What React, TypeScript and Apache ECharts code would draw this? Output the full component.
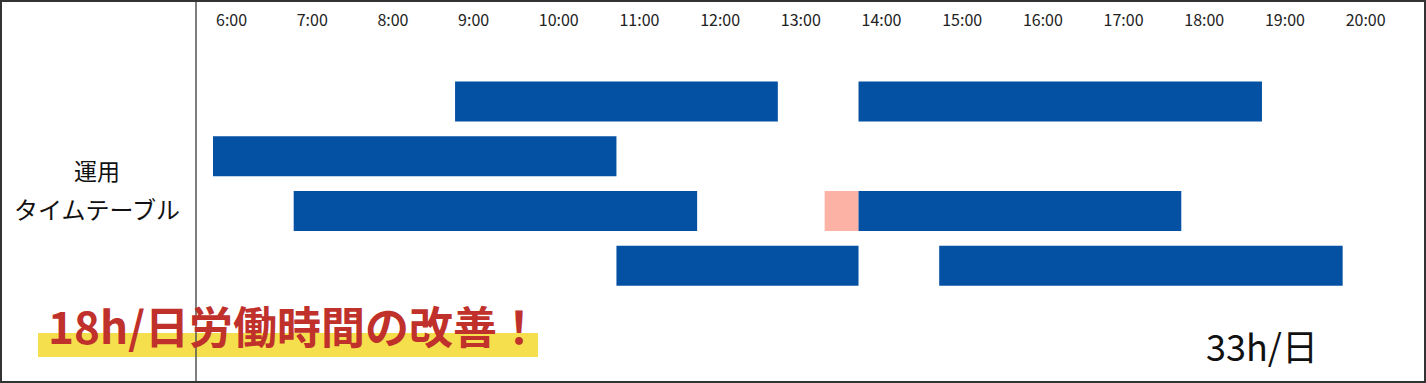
import React, { useEffect, useRef } from 'react';
import * as echarts from 'echarts';

const rowNames = ['row1', 'row2', 'row3', 'row4'];
const shiftRow = [0, 0, 1, 2, 2, 2, 3, 3];
const shiftStart = [9, 14, 6, 7, 13.58, 14, 11, 15];
const shiftEnd = [13, 19, 11, 12, 14, 18, 14, 20];
const shiftKind = ['work', 'work', 'work', 'work', 'extra', 'work', 'work', 'work'];
const axisMin = 6;
const axisMax = 20.5;
const sideLabel = ['運用', 'タイムテーブル'];
const improveText = '18h/日労働時間の改善！';
const totalText = '33h/日';

const kindColor: Record<string, string> = { work: '#0451a3', extra: '#fcb3a5' };
const FONT = '"Noto Sans CJK JP", "Noto Sans", sans-serif';

export default function App() {
  const ref = useRef<HTMLDivElement>(null);
  useEffect(() => {
    const chart = echarts.init(ref.current!, null, { renderer: 'svg' });
    chart.setOption({
      animation: false,
      grid: { left: 213, right: 43, top: 74, bottom: 90 },
      xAxis: {
        type: 'value',
        position: 'top',
        min: axisMin,
        max: axisMax,
        interval: 1,
        axisLine: { show: false },
        axisTick: { show: false },
        splitLine: { show: false },
        axisLabel: {
          formatter: (v: number) => (Number.isInteger(v) ? `${v}:00` : ''),
          align: 'left',
          padding: [0, 0, 0, 3],
          margin: 47,
          fontSize: 16,
          color: '#222',
          fontFamily: FONT,
        },
      },
      yAxis: {
        type: 'category',
        data: rowNames,
        inverse: true,
        axisLine: { show: false },
        axisTick: { show: false },
        axisLabel: { show: false },
        splitLine: { show: false },
      },
      series: [
        {
          type: 'custom',
          renderItem: (params: any, api: any) => {
            const row = api.value(0);
            const s = api.coord([api.value(1), row]);
            const e = api.coord([api.value(2), row]);
            const h = 40;
            return {
              type: 'rect',
              shape: { x: s[0], y: s[1] - h / 2, width: e[0] - s[0], height: h },
              style: { fill: kindColor[shiftKind[params.dataIndex]] },
            };
          },
          encode: { x: [1, 2], y: 0 },
          data: shiftRow.map((r, i) => [r, shiftStart[i], shiftEnd[i]]),
        },
      ],
      graphic: [
        {
          type: 'rect',
          z: 1,
          shape: { x: 38, y: 333, width: 500, height: 24 },
          style: { fill: '#f5df4d' },
        },
        {
          type: 'line',
          z: 2,
          shape: { x1: 196, y1: 0, x2: 196, y2: 383 },
          style: { stroke: '#555', lineWidth: 1.5 },
        },
        {
          type: 'rect',
          z: 2,
          shape: { x: 1, y: 1, width: 1424, height: 381 },
          style: { fill: 'none', stroke: '#333', lineWidth: 2 },
        },
        {
          type: 'text',
          z: 3,
          x: 97,
          y: 170,
          style: { text: sideLabel[0], fontSize: 23, fontFamily: FONT, fill: '#111', textAlign: 'center', textVerticalAlign: 'middle' },
        },
        {
          type: 'text',
          z: 3,
          x: 97,
          y: 208,
          style: { text: sideLabel[1], fontSize: 24, fontFamily: FONT, fill: '#111', textAlign: 'center', textVerticalAlign: 'middle' },
        },
        {
          type: 'text',
          z: 3,
          x: 48,
          y: 325,
          style: { text: improveText, fontSize: 44, fontWeight: 'bold', fontFamily: FONT, fill: '#c0312b', textAlign: 'left', textVerticalAlign: 'middle' },
        },
        {
          type: 'text',
          z: 3,
          x: 1262,
          y: 345,
          style: { text: totalText, fontSize: 36, fontFamily: FONT, fill: '#111', textAlign: 'center', textVerticalAlign: 'middle' },
        },
      ],
    });
    return () => chart.dispose();
  }, []);
  return <div ref={ref} style={{ position: 'absolute', left: 0, top: 0, width: 1426, height: 383 }} />;
}
